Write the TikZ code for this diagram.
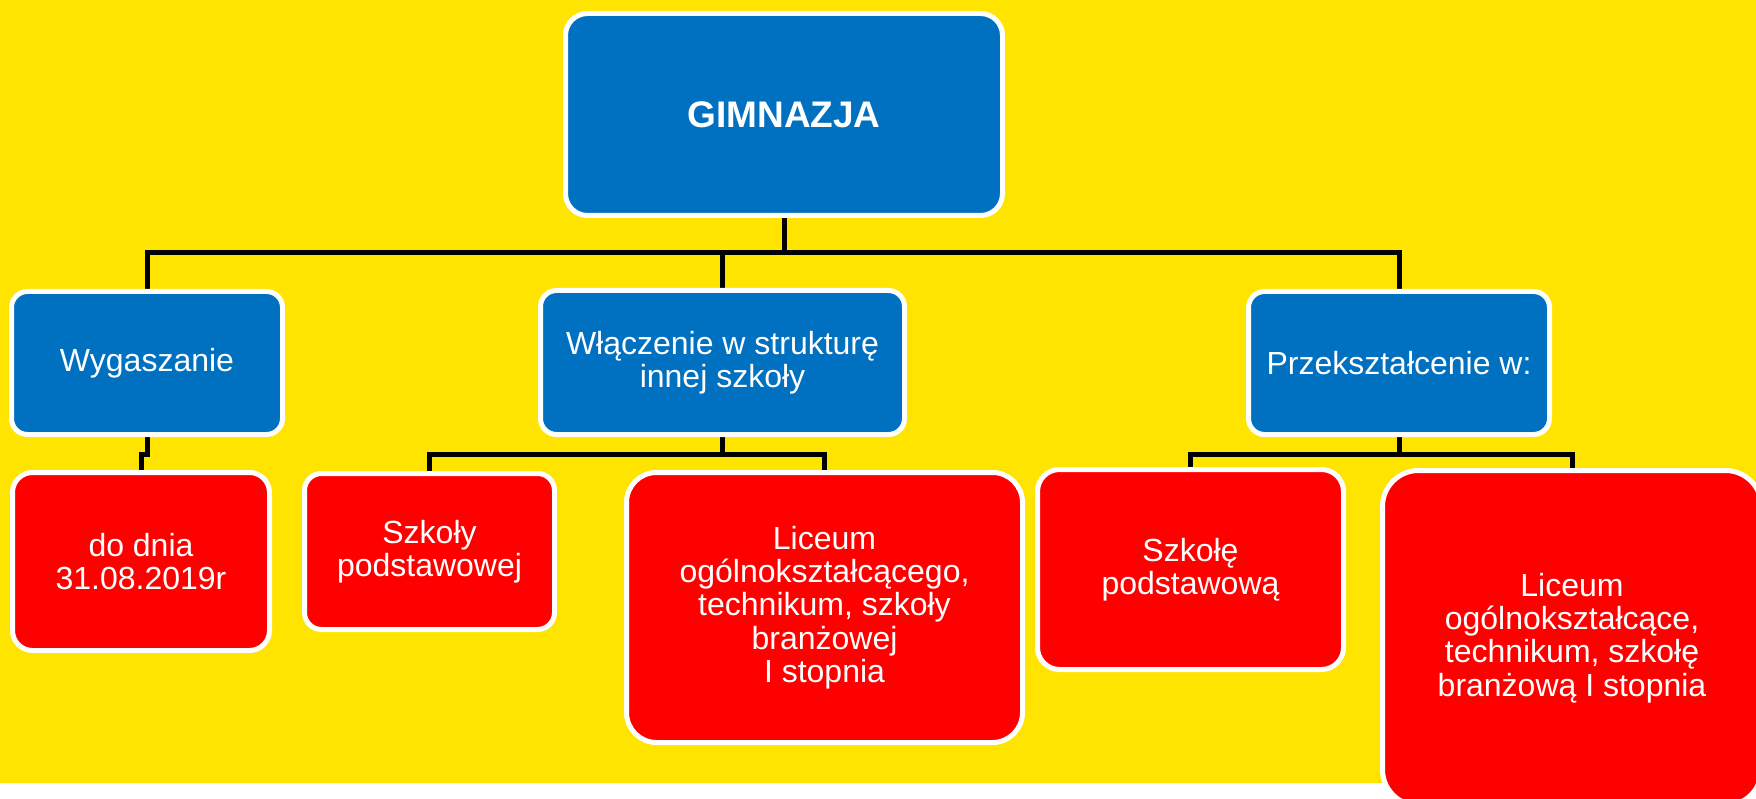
\documentclass[tikz,border=0pt]{standalone}
\usepackage{fontspec}
\setmainfont{Liberation Sans}
\usetikzlibrary{backgrounds}
\definecolor{bgyellow}{HTML}{FFE400}
\definecolor{boxblue}{HTML}{0070C0}
\definecolor{boxred}{HTML}{FF0000}

\begin{document}
\begin{tikzpicture}[
                        x=1pt, y=-1pt,
                        block/.style={rectangle, draw=white, line width=5pt, text=white, align=center,
                            font=\fontsize{32}{33.3}\selectfont},
                        bluebox/.style={block, fill=boxblue},
                        redbox/.style={block, fill=boxred},
                        link/.style={draw=black, line width=5pt}
                    ]
                    \useasboundingbox (0,0) rectangle (1756,799);

                    % Blocks
                    \node [bluebox, minimum width=437pt, minimum height=202pt, rounded corners=22pt,
                        font=\fontsize{37}{40}\selectfont\bfseries] (gim) at (784,114.5) {GIMNAZJA};
                    \node [bluebox, minimum width=271pt, minimum height=143pt, rounded corners=16pt] (wyg) at (147,363) {Wygaszanie};
                    \node [bluebox, minimum width=364pt, minimum height=144pt, rounded corners=16pt] (wlacz) at (722.5,362.5) {Włączenie w strukturę\\innej szkoły};
                    \node [bluebox, minimum width=301pt, minimum height=143pt, rounded corners=16pt] (przek) at (1399,363) {Przekształcenie w:};

                    \node [redbox, minimum width=257pt, minimum height=178pt, rounded corners=20pt] (termin) at (141,561.5) {do dnia\\31.08.2019r};
                    \node [redbox, minimum width=250pt, minimum height=156pt, rounded corners=17pt] (szkPodst) at (429.5,551.5) {Szkoły\\podstawowej};
                    \node [redbox, minimum width=396pt, minimum height=270pt, rounded corners=30pt] (licOgol) at (824.5,607.5) {Liceum\\ogólnokształcącego,\\technikum, szkoły\\branżowej\\I stopnia};
                    \node [redbox, minimum width=306pt, minimum height=200pt, rounded corners=22pt] (szkNowa) at (1190.5,569.5) {Szkołę\\podstawową};
                    \node [redbox, minimum width=379pt, minimum height=335pt, rounded corners=36pt] (licNowe) at (1572,638) {Liceum\\ogólnokształcące,\\technikum, szkołę\\branżową I stopnia};

                    \begin{scope}[on background layer]
                    \fill [white] (0,0) rectangle (1756,799);
                    \fill [bgyellow] (0,0) rectangle (1756,783);

                    % Connections
                    \coordinate (bus) at (784,253);
                    \draw [link] (gim.south) -- (bus);
                    \draw [link] (wyg.north) |- (bus) -| (przek.north);
                    \draw [link] (wlacz.north) -- (wlacz.north |- bus);

                    \draw [link] (wyg.south) -- ++(0,17) -| (termin.north);
                    \draw [link] (wlacz.south) -- ++(0,17) coordinate (wbus);
                    \draw [link] (szkPodst.north) |- (wbus) -| (licOgol.north);
                    \draw [link] (przek.south) -- ++(0,17) coordinate (pbus);
                    \draw [link] (szkNowa.north) |- (pbus) -| (licNowe.north);
                    \end{scope}
                \end{tikzpicture}
\end{document}
